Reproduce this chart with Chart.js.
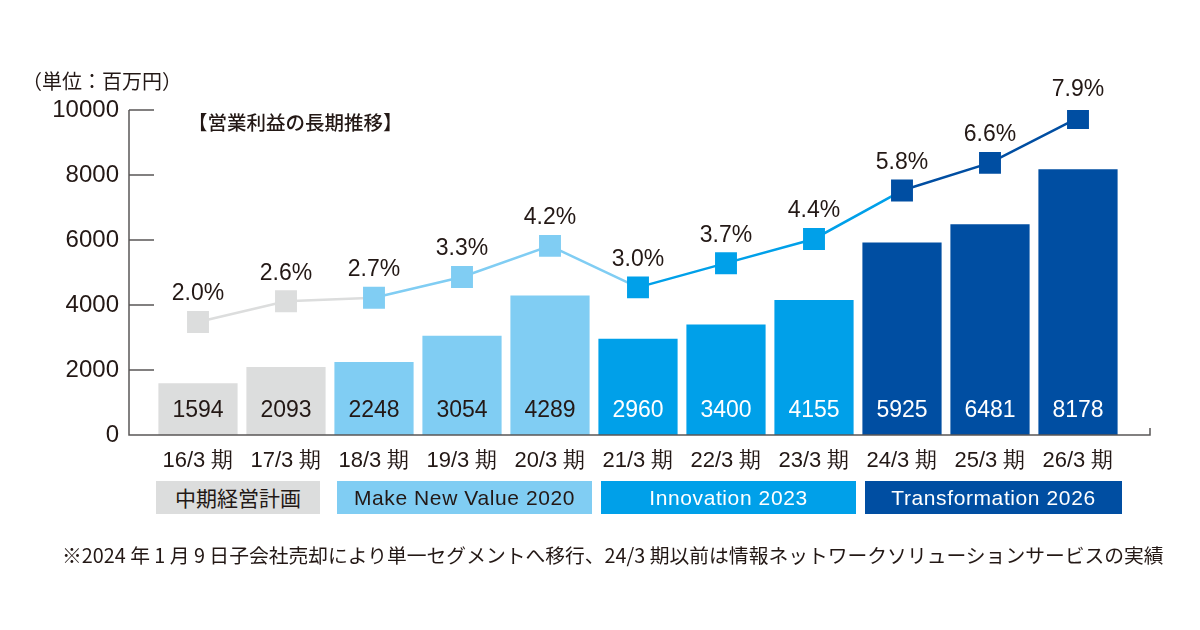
<!DOCTYPE html>
<html lang="ja">
<head>
<meta charset="utf-8">
<script src="https://cdn.jsdelivr.net/npm/chart.js@4.4.1/dist/chart.umd.min.js"></script>
<style>
  html, body { margin: 0; padding: 0; background: #fff; }
  #wrap { position: relative; width: 1200px; height: 630px; font-family: "Noto Sans CJK JP", "Noto Sans", sans-serif; color: #231815; }
  canvas { position: absolute; left: 0; top: 0; }
  .unit { position: absolute; left: 22px; top: 66px; font-size: 20px; }
  .title { position: absolute; left: 188px; top: 107px; font-size: 19.5px; font-weight: 500; }
  .plan { position: absolute; top: 481px; height: 33px; line-height: 33px; text-align: center; font-size: 21px;
          font-family: "Liberation Sans", Arial, "Noto Sans CJK JP", sans-serif; letter-spacing: 0.6px; }
  .plan.jp { font-family: "Noto Sans CJK JP", sans-serif; font-weight: 400; letter-spacing: 0; }
  .note { position: absolute; left: 62px; top: 540px; font-size: 19.8px; white-space: nowrap; }
</style>
</head>
<body>
<div id="wrap">
  <canvas id="profit-chart" width="1200" height="630"></canvas>
  <div class="unit">（単位：百万円）</div>
  <div class="title">【営業利益の長期推移】</div>
  <div id="plans"></div>
  <div class="note">※2024 年 1 月 9 日子会社売却により単一セグメントへ移行、24/3 期以前は情報ネットワークソリューションサービスの実績</div>
</div>
<script>
// data
const periods = ["16/3 期", "17/3 期", "18/3 期", "19/3 期", "20/3 期", "21/3 期",
  "22/3 期", "23/3 期", "24/3 期", "25/3 期", "26/3 期"];
const operatingProfit = [1594, 2093, 2248, 3054, 4289, 2960, 3400, 4155, 5925, 6481, 8178];
const operatingMargin = [2.0, 2.6, 2.7, 3.3, 4.2, 3.0, 3.7, 4.4, 5.8, 6.6, 7.9];
const planOf = [0, 0, 1, 1, 1, 2, 2, 2, 3, 3, 3];
const planNames = ["中期経営計画", "Make New Value 2020", "Innovation 2023", "Transformation 2026"];
const yTicks = [0, 2000, 4000, 6000, 8000, 10000];

const planColors = ["#dcdddd", "#80cdf3", "#00a0e9", "#004ea2"];
const planText = ["#231815", "#231815", "#ffffff", "#ffffff"];
const axisColor = "#595757";
const numFont = "'Liberation Sans', Arial, sans-serif";

// legend boxes for each plan
const planBoxes = [[156, 164], [337, 255], [601, 255], [865, 257]];
const plansEl = document.getElementById("plans");
planNames.forEach((name, i) => {
  const d = document.createElement("div");
  d.className = i === 0 ? "plan jp" : "plan";
  d.textContent = name;
  d.style.left = planBoxes[i][0] + "px";
  d.style.width = planBoxes[i][1] + "px";
  d.style.background = planColors[i];
  d.style.color = planText[i];
  plansEl.appendChild(d);
});

const barColors = planOf.map((p) => planColors[p]);

// axis lines + value labels
const decorations = {
  id: "decorations",
  afterDatasetsDraw(chart) {
    const { ctx, chartArea } = chart;
    const y = chart.scales.y;
    const axisX = chartArea.left - 25;
    ctx.save();
    ctx.strokeStyle = axisColor;
    ctx.lineWidth = 1.5;
    ctx.beginPath();
    ctx.moveTo(axisX, y.getPixelForValue(10000));
    ctx.lineTo(axisX, y.getPixelForValue(0));
    ctx.lineTo(chartArea.right + 28, y.getPixelForValue(0));
    ctx.lineTo(chartArea.right + 28, y.getPixelForValue(0) - 7);
    yTicks.forEach((v) => {
      const py = y.getPixelForValue(v);
      ctx.moveTo(axisX, py);
      ctx.lineTo(chartArea.left, py);
    });
    ctx.stroke();

    // bar values
    ctx.font = "23px " + numFont;
    ctx.textAlign = "center";
    ctx.textBaseline = "middle";
    chart.getDatasetMeta(0).data.forEach((bar, i) => {
      ctx.fillStyle = planText[planOf[i]];
      ctx.fillText(operatingProfit[i], bar.x, y.getPixelForValue(0) - 24);
    });

    // margin labels
    ctx.fillStyle = "#231815";
    chart.getDatasetMeta(1).data.forEach((pt, i) => {
      ctx.fillText(operatingMargin[i].toFixed(1) + "%", pt.x, pt.y - 28);
    });
    ctx.restore();
  },
};

new Chart(document.getElementById("profit-chart"), {
  type: "bar",
  data: {
    labels: periods,
    datasets: [
      {
        label: "営業利益",
        data: operatingProfit,
        backgroundColor: barColors,
        categoryPercentage: 0.9,
        barPercentage: 1.0,
        order: 1,
      },
      {
        type: "line",
        label: "営業利益率",
        data: operatingMargin,
        yAxisID: "y2",
        borderWidth: 2.5,
        segment: {
          borderColor: (c) => barColors[c.p0DataIndex],
        },
        pointStyle: "rect",
        pointRadius: 15.5,
        pointBorderWidth: 0,
        pointBackgroundColor: barColors,
        order: 0,
      },
    ],
  },
  options: {
    responsive: false,
    animation: false,
    layout: { padding: { left: 0, right: 78, top: 110, bottom: 155 } },
    plugins: { legend: { display: false }, tooltip: { enabled: false } },
    scales: {
      x: {
        grid: { display: false },
        border: { display: false },
        ticks: {
          color: "#231815",
          padding: 5,
          font: { size: 22, family: numFont },
        },
        afterFit(scale) { scale.height = 40; },
      },
      y: {
        min: 0,
        max: 10000,
        afterBuildTicks(scale) { scale.ticks = yTicks.map((v) => ({ value: v })); },
        grid: { display: false, drawTicks: false },
        border: { display: false },
        ticks: {
          color: "#231815",
          padding: 35,
          font: { size: 24, family: numFont },
          callback: (v) => String(v),
        },
        afterFit(scale) { scale.width = 154; },
      },
      y2: {
        display: false,
        min: -1.27,
        max: 8.13,
      },
    },
  },
  plugins: [decorations],
});
</script>
</body>
</html>
